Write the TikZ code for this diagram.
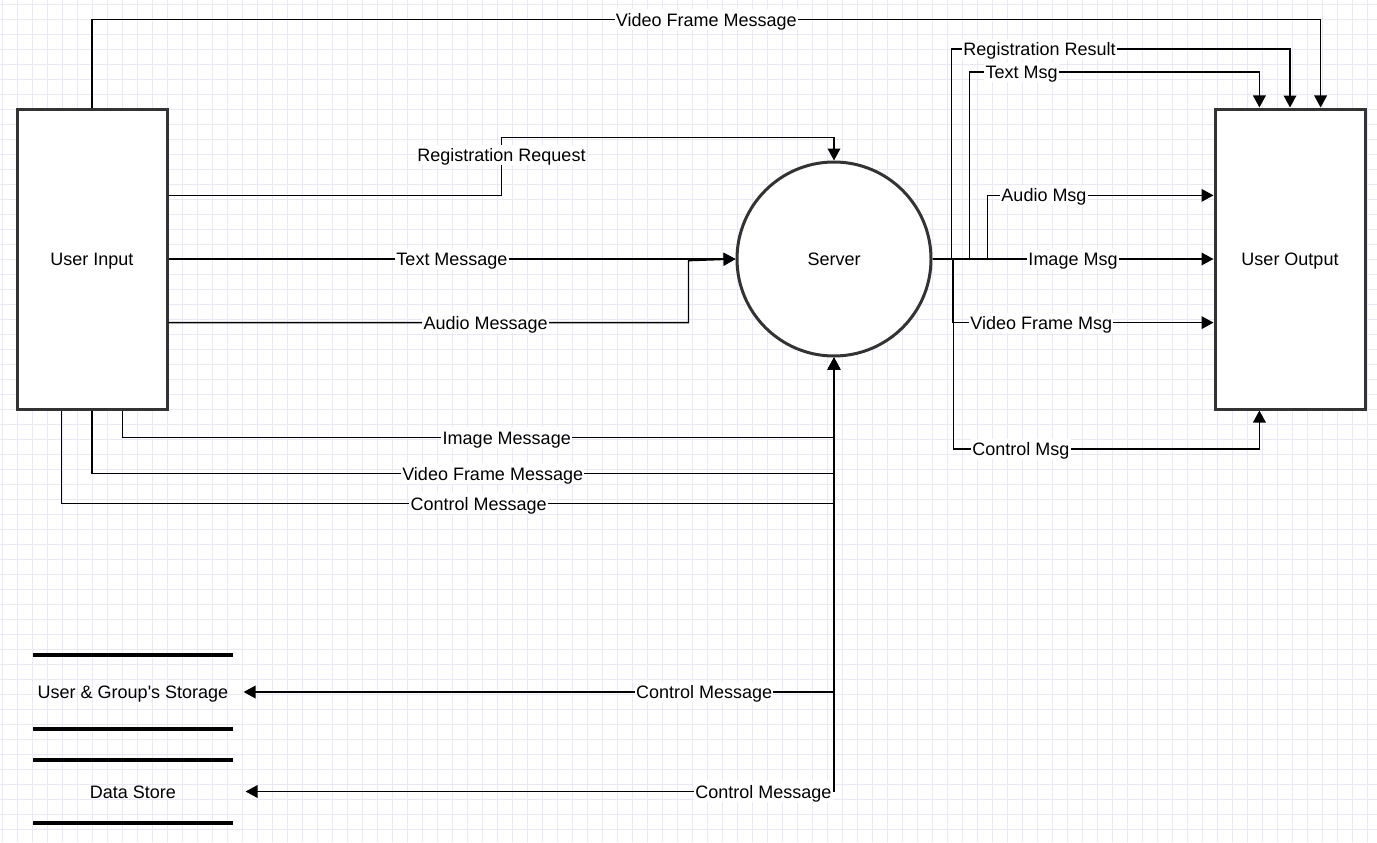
\documentclass[tikz,border=0pt]{standalone}
\usepackage{fontspec}
\setmainfont{Liberation Sans}
\usetikzlibrary{arrows.meta,calc}

\definecolor{gridline}{RGB}{232,232,250}
\definecolor{boxgray}{RGB}{51,51,51}

\tikzset{
  every node/.style={text height=11.5pt, text depth=1.6pt},
  entity/.style={draw=boxgray, line width=2.25pt, fill=white, minimum width=112.5pt, minimum height=225pt, inner sep=0pt},
  process/.style={circle, draw=boxgray, line width=2.25pt, fill=white, minimum size=145.5pt, inner sep=0pt},
  store/.style={minimum width=149pt, inner sep=0pt},
  storeline/.style={line width=3pt},
  flow/.style={line width=1.1pt, -{Triangle[length=9pt,width=9.5pt]}},
  lbl/.style={fill=white, inner sep=1pt},
}

\begin{document}
\begin{tikzpicture}[x=0.75pt, y=-0.75pt, font=\fontsize{13.5}{16}\selectfont]
  % 1. Canvas with the grid
  \useasboundingbox (0,0) rectangle (1377,842);
  \fill[white] (0,0) rectangle (1377,842);
  \foreach \gx in {2.3,17.3,...,1377}
    \draw[gridline, line width=0.75pt] (\gx,0) -- (\gx,842);
  \foreach \gy in {4.3,19.3,...,842}
    \draw[gridline, line width=0.75pt] (0,\gy) -- (1377,\gy);

  % 2. Entities, process and stores
  \node[entity] (uin) at (92,259) {User Input};
  \node[process] (srv) at (834,259) {Server};
  \node[entity] (uout) at (1290,259) {User Output};
  \node[store, minimum height=55.5pt] (ugs) at (133,692) {User \& Group\textquotesingle s Storage};
  \node[store, minimum height=47.25pt] (ds) at (133,791.5) {Data Store};
  \draw[storeline] (ugs.north west) -- (ugs.north east);
  \draw[storeline] (ugs.south west) -- (ugs.south east);
  \draw[storeline] (ds.north west) -- (ds.north east);
  \draw[storeline] (ds.south west) -- (ds.south east);

  % 3. User Input to Server
  \draw[flow] ($(uin.north east)!0.29!(uin.south east)$) -- ++(333,0)
    -- node[lbl, pos=0.7] {Registration Request} ++(0,-58) -| (srv.north);
  \draw[flow] (uin.east) -- node[lbl] {Text Message} (srv.west);
  \draw[flow] ($(uin.north east)!0.71!(uin.south east)$)
    -- node[lbl, pos=0.61] {Audio Message} ++(520,0) -- ++(0,-62) -- (srv.west);
  \draw[flow] ($(uin.south west)!0.7!(uin.south east)$) -- ++(0,27)
    -| node[lbl, pos=0.27] {Image Message} (srv.south);
  \draw[flow] (uin.south) -- ++(0,63)
    -| node[lbl, pos=0.27] {Video Frame Message} (srv.south);
  \draw[flow] ($(uin.south west)!0.3!(uin.south east)$) -- ++(0,93)
    -| node[lbl, pos=0.27] {Control Message} (srv.south);

  % 4. User Input straight to User Output
  \draw[flow] (uin.north) -- ++(0,-88)
    -| node[lbl, pos=0.25] {Video Frame Message} ($(uout.north west)!0.7!(uout.north east)$);

  % 5. Server to User Output
  \draw[flow] (srv.east) -- ++(19,0) -- ++(0,-210)
    -| node[lbl, pos=0.13] {Registration Result} (uout.north);
  \draw[flow] (srv.east) -- ++(37,0) -- ++(0,-187)
    -| node[lbl, pos=0.09] {Text Msg} ($(uout.north west)!0.3!(uout.north east)$);
  \draw[flow] (srv.east) -- ++(55,0)
    |- node[lbl, pos=0.625] {Audio Msg} ($(uout.north west)!0.29!(uout.south west)$);
  \draw[flow] (srv.east) -- node[lbl] {Image Msg} (uout.west);
  \draw[flow] (srv.east) -- ++(20,0)
    |- node[lbl, pos=0.67] {Video Frame Msg} ($(uout.north west)!0.71!(uout.south west)$);
  \draw[flow] (srv.east) -- ++(21,0) -- ++(0,190)
    -| node[lbl, pos=0.11] {Control Msg} ($(uout.south west)!0.3!(uout.south east)$);

  % 6. Server to the stores
  \draw[flow] (srv.south) |- node[lbl, pos=0.61] {Control Message} ($(ugs.east)+(11,0)$);
  \draw[flow] (srv.south) |- node[lbl, pos=0.56] {Control Message} ($(ds.east)+(13,0)$);
\end{tikzpicture}
\end{document}
